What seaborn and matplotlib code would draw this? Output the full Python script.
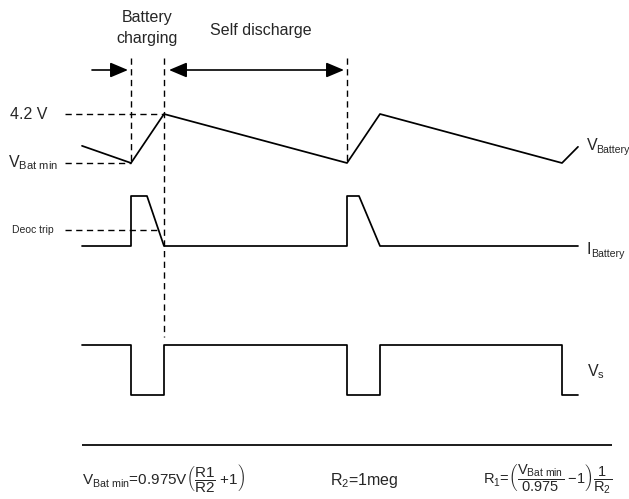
import matplotlib
matplotlib.use("Agg")
import matplotlib.pyplot as plt
import numpy as np
import pandas as pd
import seaborn as sns

sns.set_theme(style="white")
plt.rcParams["font.family"] = ["Liberation Sans", "DejaVu Sans"]
plt.rcParams["mathtext.fontset"] = "custom"
plt.rcParams["mathtext.rm"] = "Liberation Sans"
plt.rcParams["mathtext.it"] = "Liberation Sans"

# Time axis (arbitrary units) and the three waveforms, each normalised 0..1
vbat_time = [0, 49, 82, 265, 298, 480, 496]
vbat_level = [0.35, 0.0, 1.0, 0.0, 1.0, 0.0, 0.33]   # 0 = V_Bat min, 1 = 4.2 V

ibat_time = [0, 49, 49, 65, 82, 265, 265, 277, 298, 496]
ibat_level = [0, 0, 1, 1, 0, 0, 1, 1, 0, 0]

vs_time = [0, 49, 49, 82, 82, 265, 265, 298, 298, 480, 480, 496]
vs_level = [1, 1, 0, 0, 1, 1, 0, 0, 1, 1, 0, 0]

deoc_trip_level = 0.32
charge_start, charge_end, next_charge = 49, 82, 265

# Lane placement on the drawing canvas: (baseline, height)
LANES = {"vbat": (163, 49), "ibat": (246, 50), "vs": (395, 50)}


def lane_y(name, level):
    base, h = LANES[name]
    return base - h * np.asarray(level, dtype=float)


fig = plt.figure(figsize=(6.29, 4.99), dpi=100)
ax = fig.add_axes([0, 0, 1, 1])
ax.set_xlim(-82, 547)
ax.set_ylim(499, 0)
ax.axis("off")

frames = []
for name, t, v in [("vbat", vbat_time, vbat_level),
                   ("ibat", ibat_time, ibat_level),
                   ("vs", vs_time, vs_level)]:
    frames.append(pd.DataFrame({"time": t, "y": lane_y(name, v), "trace": name}))
df = pd.concat(frames, ignore_index=True)

for name, sub in df.groupby("trace"):
    sns.lineplot(data=sub, x="time", y="y", sort=False, estimator=None,
                 color="black", lw=1.25, ax=ax, legend=False)

# Reference line under the traces
ax.plot([0, 530], [445, 445], color="black", lw=1.25, solid_capstyle="butt")

dash = dict(color="black", lw=1.0, linestyle=(0, (4.5, 3.2)))
# Vertical timing markers
ax.plot([charge_start] * 2, [58, lane_y("vbat", 0)], **dash)
ax.plot([charge_end] * 2, [58, 337], **dash)
ax.plot([next_charge] * 2, [58, lane_y("vbat", 0)], **dash)
# Horizontal level markers
ax.plot([-17, charge_end], [lane_y("vbat", 1)] * 2, **dash)
ax.plot([-17, charge_start], [lane_y("vbat", 0)] * 2, **dash)
trip_t = 65 + (82 - 65) * (1 - deoc_trip_level)
ax.plot([-17, trip_t], [lane_y("ibat", deoc_trip_level)] * 2, **dash)

# Interval arrows
arrow_y = 70
ax.annotate("", xy=(charge_start - 3, arrow_y), xytext=(10, arrow_y),
            arrowprops=dict(arrowstyle="-|>,head_length=0.9,head_width=0.38",
                            color="black", lw=1.2, shrinkA=0, shrinkB=0))
ax.annotate("", xy=(next_charge - 3, arrow_y), xytext=(charge_end + 5, arrow_y),
            arrowprops=dict(arrowstyle="<|-|>,head_length=0.9,head_width=0.38",
                            color="black", lw=1.2, shrinkA=0, shrinkB=0))

fs = 11.5
ax.text(65, 17, "Battery", ha="center", va="center", fontsize=fs)
ax.text(65, 38, "charging", ha="center", va="center", fontsize=fs)
ax.text(179, 30, "Self discharge", ha="center", va="center", fontsize=fs)

ax.text(-72, lane_y("vbat", 1), "4.2 V", ha="left", va="center", fontsize=fs)
ax.text(-74, lane_y("vbat", 0), r"V$_{\mathrm{Bat\ min}}$", ha="left", va="center",
        fontsize=fs)
ax.text(-70, lane_y("ibat", deoc_trip_level), "Deoc trip", ha="left", va="center",
        fontsize=7.5)

# Trace names on the right; the subscript is set smaller so it fits the page
ax.text(505, 145, "V", ha="left", va="center", fontsize=fs)
ax.text(514, 150, "Battery", ha="left", va="center", fontsize=7.6)
ax.text(505, 249, "I", ha="left", va="center", fontsize=fs)
ax.text(509, 254, "Battery", ha="left", va="center", fontsize=7.6)
ax.text(505, 372, r"V$_{\mathrm{s}}$", ha="left", va="center", fontsize=fs)

# Design equations
ax.text(0, 478,
        r"V$_{\mathrm{Bat\ min}}$=0.975V$\left(\dfrac{\mathrm{R1}}{\mathrm{R2}}\ \mathrm{{+}1}\right)$",
        ha="left", va="center", fontsize=11)
ax.text(248, 481, r"R$_2$=1meg", ha="left", va="center", fontsize=fs)
ax.text(530, 479,
        r"R$_1$=$\left(\dfrac{\mathrm{V_{Bat\ min}}}{\mathrm{0.975}}\ \mathrm{{-}1}\right)\dfrac{\mathrm{1}}{\mathrm{R_2}}$",
        ha="right", va="center", fontsize=10.5)

fig.savefig("out.png", dpi=100, facecolor="white")
